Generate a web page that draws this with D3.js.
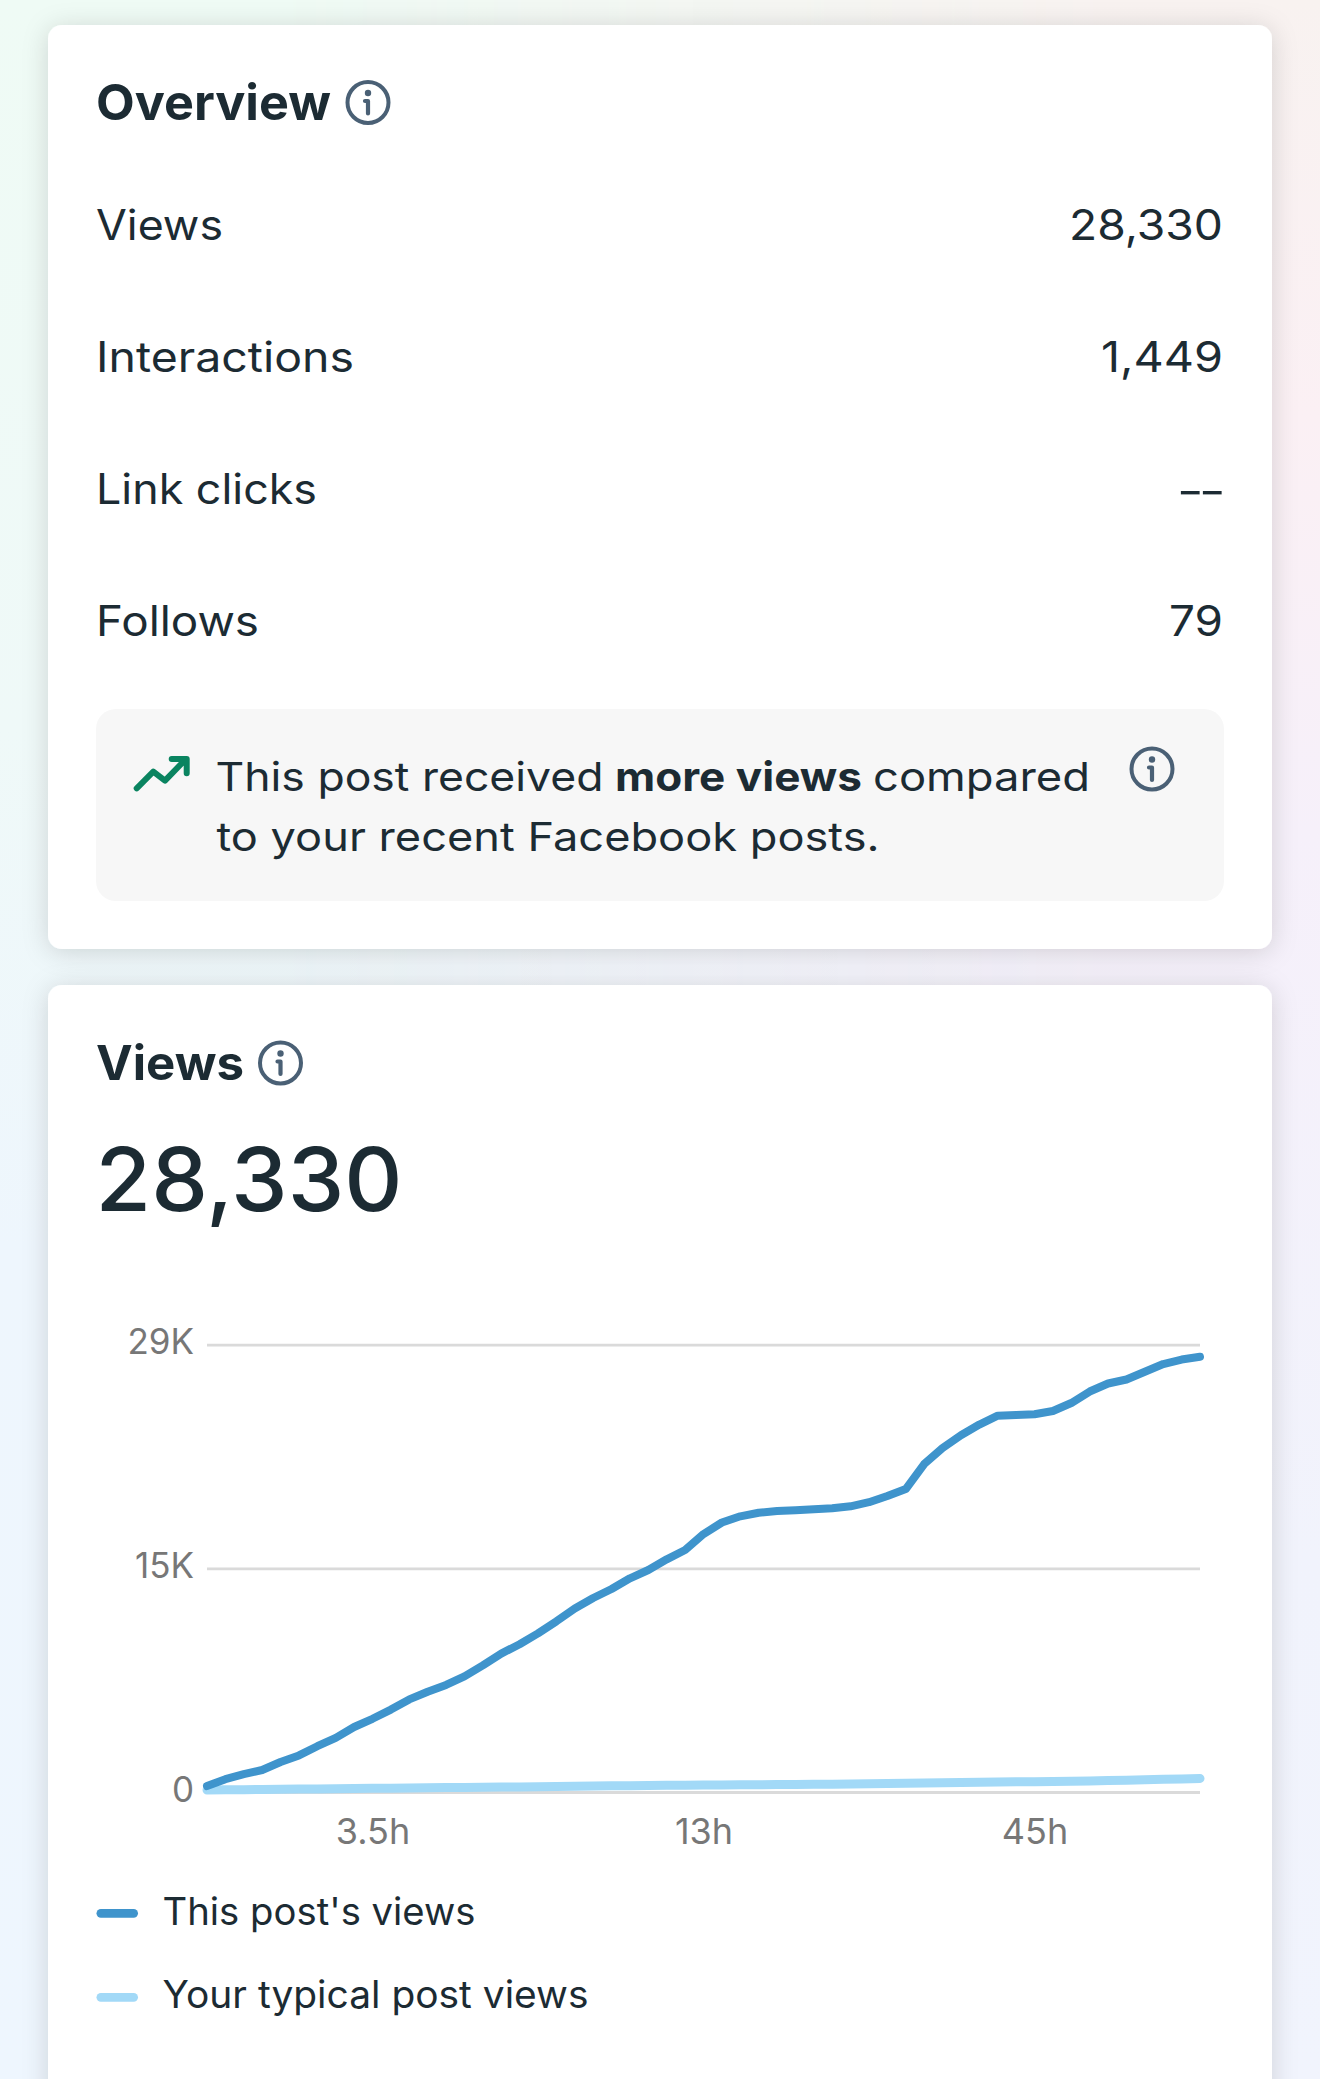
<!DOCTYPE html>
<html>
<head>
<meta charset="utf-8">
<script src="https://cdn.jsdelivr.net/npm/d3@7/dist/d3.min.js"></script>
<style>
html,body{margin:0;padding:0;width:1320px;height:2079px;overflow:hidden;background:#f0f6fb}
#bgL,#bgR{position:absolute;left:0;top:0;width:1320px;height:2079px}
#bgL{background:linear-gradient(180deg,#EFFBF5 0%,#EFF9F8 35%,#EEF6FD 60%,#EEF6FE 100%)}
#bgR{background:linear-gradient(180deg,#F8F2F0 0%,#FBF0F4 20%,#F6F0FA 40%,#F1F3FC 75%,#F1F4FD 100%);
-webkit-mask-image:linear-gradient(90deg,transparent 20%,#000 85%);mask-image:linear-gradient(90deg,transparent 20%,#000 85%)}
svg{position:absolute;left:0;top:0;display:block}
text{font-family:Inter,"Noto Sans",sans-serif;fill:#1C2B33}
</style>
</head>
<body>
<div id="bgL"></div><div id="bgR"></div>
<svg id="c" width="1320" height="2079" viewBox="0 0 1320 2079"></svg>
<script>
const overviewLabels = ["Views", "Interactions", "Link clicks", "Follows"];
const overviewValues = ["28,330", "1,449", "--", "79"];
const xTickIndex = [9, 27, 45];
const xTickLabels = ["3.5h", "13h", "45h"];
const yTickValues = [0, 14500, 29000];
const yTickLabels = ["0", "15K", "29K"];
const thisPostViews = [389,830,1154,1426,1945,2373,2969,3507,4214,4746,5342,6003,6502,6943,7494,8207,8973,9582,10282,11067,11903,12577,13160,13854,14392,15086,15689,16726,17472,17874,18107,18217,18263,18327,18392,18522,18788,19190,19643,21264,22302,23131,23825,24396,24441,24493,24700,25219,25964,26483,26742,27248,27747,28039,28220];
const typicalViews = [130,140,150,165,180,190,200,215,225,240,250,265,275,285,295,305,320,330,345,355,370,385,400,410,420,430,440,450,460,470,475,485,490,500,510,520,530,545,560,580,600,620,640,650,660,670,680,700,720,740,760,790,820,850,880];
const legendLabels = ["This post's views", "Your typical post views"];
const legendColors = ["#3F94CC", "#A2D9F7"];

const svg = d3.select("#c");
const defs = svg.append("defs");
const f = defs.append("filter").attr("id","sh").attr("x","-10%").attr("y","-10%").attr("width","120%").attr("height","120%");
f.append("feDropShadow").attr("dx",0).attr("dy",3).attr("stdDeviation",13).attr("flood-color","#000").attr("flood-opacity",0.15);

// cards
svg.append("rect").attr("x",48).attr("y",25).attr("width",1224).attr("height",924).attr("rx",14).attr("fill","#fff").attr("filter","url(#sh)");
svg.append("rect").attr("x",48).attr("y",985).attr("width",1224).attr("height",1200).attr("rx",14).attr("fill","#fff").attr("filter","url(#sh)");

function label(x,y,t,size,opts={}){
  const s = svg.append("text").attr("x",x).attr("y",y).attr("font-size",size).text(t);
  if(opts.anchor) s.attr("text-anchor",opts.anchor);
  if(opts.weight) s.attr("font-weight",opts.weight);
  if(opts.fill) s.style("fill",opts.fill);
  if(opts.len) s.attr("textLength",opts.len).attr("lengthAdjust","spacingAndGlyphs");
  return s;
}
function info(cx,cy){
  const g = svg.append("g").attr("transform",`translate(${cx},${cy})`);
  g.append("circle").attr("r",20.5).attr("fill","none").attr("stroke","#4A6075").attr("stroke-width",4);
  g.append("circle").attr("cy",-9.5).attr("r",3.2).attr("fill","#4A6075");
  g.append("path").attr("d","M-3,-1.5H0V11").attr("fill","none").attr("stroke","#4A6075").attr("stroke-width",4.2).attr("stroke-linecap","round").attr("stroke-linejoin","round");
}

// overview
label(96,120,"Overview",50,{weight:700,len:235});
info(368,102.5);
const rowLens=[127,258,221,163], valLens=[154,122,null,54], rowY=[239.5,372,504,636];
overviewLabels.forEach((t,i)=>label(96,rowY[i],t,42,{len:rowLens[i]}));
overviewValues.forEach((t,i)=>{
  if(t==="--") return;
  label(1223,rowY[i],t,42,{anchor:"end",len:valLens[i]});
});
// dashes row: long, close-set hyphens
svg.append("text").attr("transform","translate(1221,506) scale(1.4,1)")
  .attr("text-anchor","end").attr("font-size",42).style("letter-spacing","-3.5px").text("--");

// insight
svg.append("rect").attr("x",96).attr("y",709).attr("width",1128).attr("height",192).attr("rx",20).attr("fill","#F7F7F7");
svg.append("path").attr("d","M136.7,788.3L153.3,771.7L165,780.7L185,760M171.7,759H186.7V773.3").attr("fill","none").attr("stroke","#0A8460").attr("stroke-width",6).attr("stroke-linecap","round").attr("stroke-linejoin","round");
label(215.5,791,"This post received",40,{len:388});
label(615,791,"more views",40,{weight:700,len:247});
label(873,791,"compared",40,{len:217});
label(216.5,851,"to your recent Facebook posts.",40,{len:663});
info(1152,769);

// views
label(96,1080,"Views",48,{weight:700,len:148});
info(280.5,1063);
label(95.5,1211,"28,330",88,{weight:500,len:307});

// chart
const x = d3.scaleLinear().domain([0,thisPostViews.length-1]).range([207,1200]);
const y = d3.scaleLinear().domain([0,29000]).range([1792,1344.7]);

const grid = svg.append("g").attr("transform","translate(207,0)")
  .call(d3.axisLeft(y).tickValues(yTickValues).tickSize(-993).tickFormat(""));
grid.select(".domain").remove();
grid.selectAll("line").attr("stroke","#DADADA").attr("stroke-width",2.8);

const yAxis = svg.append("g").attr("transform","translate(194,-2)")
  .call(d3.axisLeft(y).tickValues(yTickValues).tickSize(0).tickPadding(0).tickFormat((d,i)=>yTickLabels[i]));
yAxis.select(".domain").remove();
yAxis.selectAll("text").attr("font-size",35).style("font-family","Inter,sans-serif").style("fill","#777");

const xAxis = svg.append("g").attr("transform","translate(0,1843.5)")
  .call(d3.axisBottom(x).tickValues(xTickIndex).tickSize(0).tickPadding(0).tickFormat((d,i)=>xTickLabels[i]));
xAxis.select(".domain").remove();
xAxis.selectAll("text").attr("font-size",36).attr("y",0).attr("dy",0).style("font-family","Inter,sans-serif").style("fill","#777");

const line = d3.line().x((d,i)=>x(i)).y(d=>y(d)).curve(d3.curveLinear);
[[typicalViews,1],[thisPostViews,0]].forEach(([vals,ci])=>{
  svg.append("path").datum(vals).attr("d",line).attr("fill","none")
    .attr("stroke",legendColors[ci]).attr("stroke-width",ci?9:8)
    .attr("stroke-linecap","round").attr("stroke-linejoin","round");
});

// legend
const legY=[1913.3,1997.3], legBase=[1924.5,2008.2], legLen=[313,426];
legendLabels.forEach((t,i)=>{
  svg.append("rect").attr("x",96.5).attr("y",legY[i]-4.4).attr("width",41.5).attr("height",8.8).attr("rx",4.4).attr("fill",legendColors[i]);
  label(162.5,legBase[i],t,38,{len:legLen[i]});
});
</script>
</body>
</html>
